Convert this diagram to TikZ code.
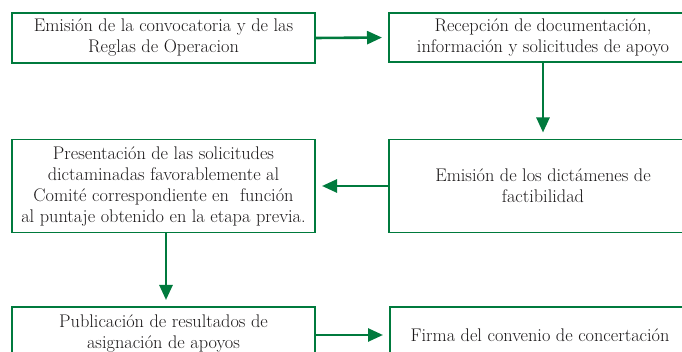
\documentclass[tikz,border=0pt]{standalone}
\usetikzlibrary{arrows.meta}
\definecolor{flowgreen}{HTML}{007A3D}
\definecolor{flowtext}{HTML}{1A1718}
\begin{document}
\begin{tikzpicture}[x=1pt,y=1pt,
  boxfont/.style={text=flowtext, font=\rmfamily\fontsize{18.3}{21}\selectfont},
  box/.style={draw=flowgreen, line width=1.8pt, rectangle, inner sep=0pt, outer sep=0pt,
    align=center, boxfont},
  flow/.style={draw=flowgreen, line width=2.6pt, -{Triangle[length=15pt,width=13pt]}, shorten >=7pt}]
\useasboundingbox (0,0) rectangle (682,-352);
\clip (0,0) rectangle (682,-352);
\node[box, minimum width=303pt, minimum height=50pt] (b1) at (163.5,-38) {Emisión de la convocatoria y de las\\Reglas de Operacion};
\node[box, minimum width=308pt, minimum height=49pt] (b2) at (543,-37.5) {Recepción de documentación,\\información y solicitudes de apoyo};
\node[box, minimum width=308pt, minimum height=93pt] (b3) at (543,-186) {Emisión de los dictámenes de\\factibilidad};
\node[box, minimum width=303pt, minimum height=93pt] (b4) at (163.5,-186) {Presentación de las solicitudes\\dictaminadas favorablemente al\\Comité correspondiente en\ \ función\\al puntaje obtenido en la etapa previa.};
\node[box, minimum width=303pt, minimum height=56pt] (b5) at (163.5,-335) {};
\node[boxfont, align=center, inner sep=0pt] (t5) at (163.5,-333) {Publicación de resultados de\\asignación de apoyos};
\node[box, minimum width=300pt, minimum height=56pt] (b6) at (540,-335) {Firma del convenio de concertación};
\draw[flow] (b1.east) -- (b2.west);
\draw[flow] (b2.south) -- (b3.north);
\draw[flow] (b3.west) -- (b4.east);
\draw[flow] ([xshift=2.5pt]b4.south) -- ([xshift=2.5pt]b4.south |- b5.north);
\draw[flow] (b5.east) -- (b6.west);
\end{tikzpicture}
\end{document}
